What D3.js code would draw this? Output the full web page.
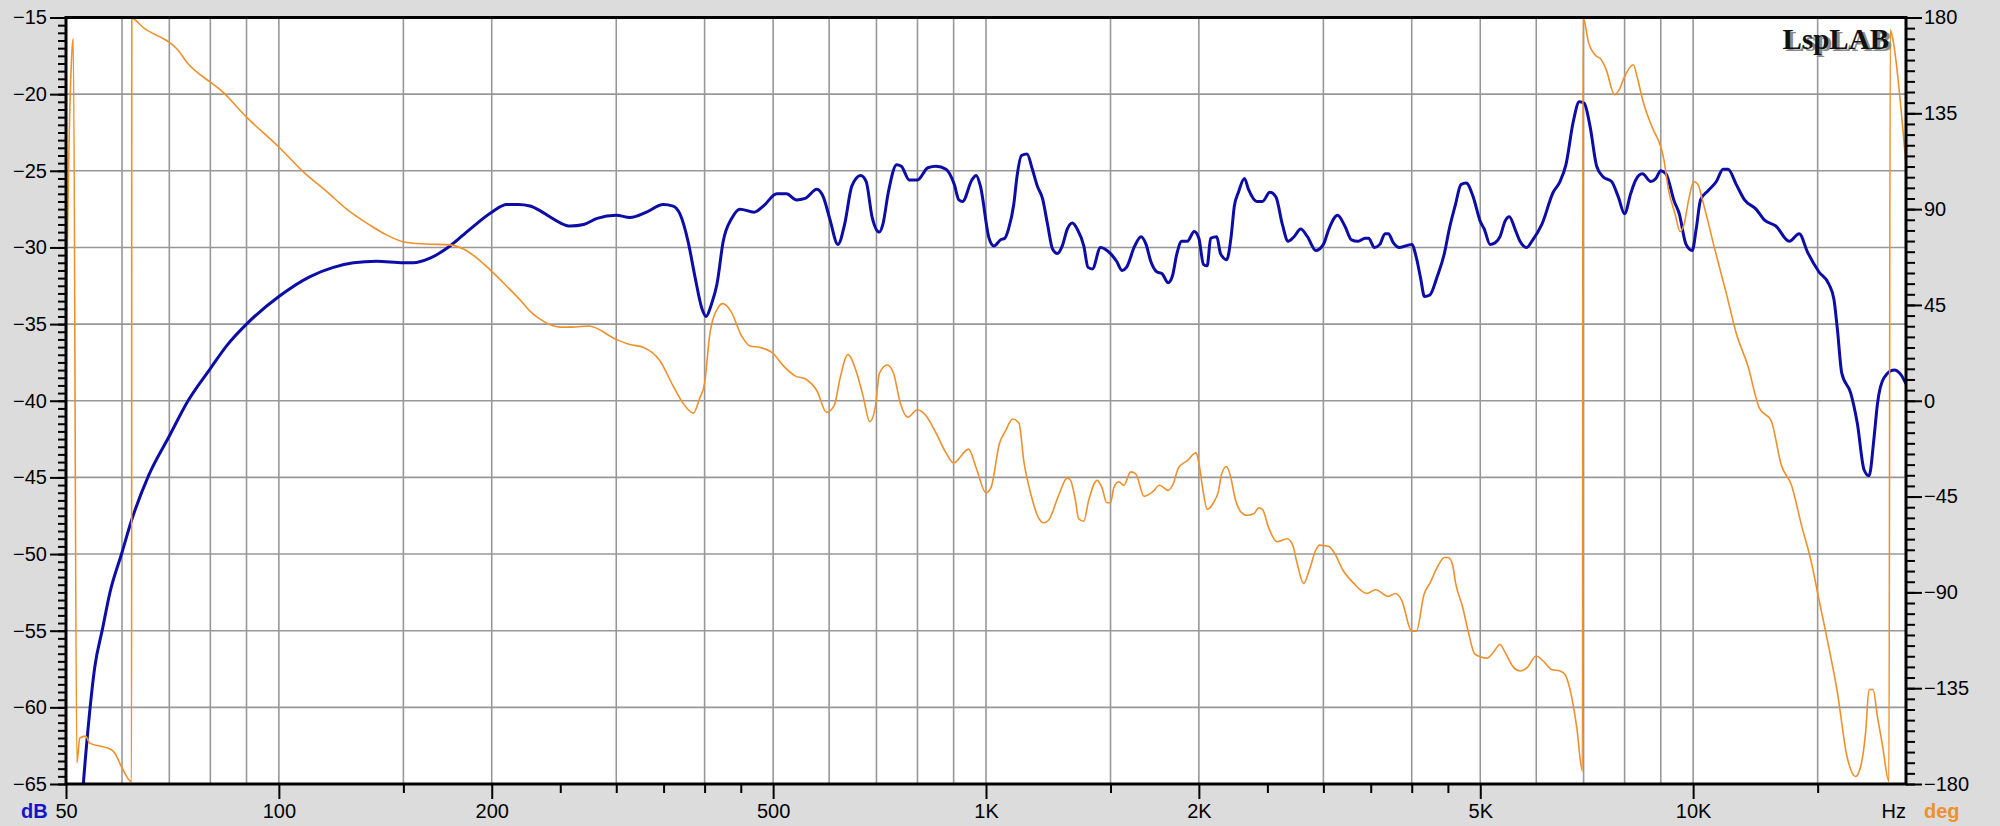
<!DOCTYPE html>
<html>
<head>
<meta charset="utf-8">
<script src="https://cdn.jsdelivr.net/npm/d3@7"></script>
<style>
  html, body { margin: 0; padding: 0; background: #dcdcdc; }
  svg { display: block; }
</style>
</head>
<body>
<svg id="chart" width="2000" height="826"></svg>
<script>
// ---------------- DATA ----------------
// Magnitude (frequency Hz, level dB) - left axis
const magnitude = [
  [52.5,-67],[52.9,-65],[53.9,-60.7],[54.9,-57.4],[56.3,-54.9],[57.7,-52.5],[60,-49.9],[61.9,-47.8],
  [65.4,-44.9],[70,-42.3],[74.4,-40.0],[80,-37.9],[84.4,-36.4],[90,-35.0],[100,-33.2],[110.7,-31.9],
  [119.4,-31.3],[127.5,-31.0],[137.5,-30.9],[150,-31.0],[154.9,-31.0],[163.6,-30.7],[174.6,-29.9],
  [186.4,-28.8],[200,-27.7],[210,-27.2],[218,-27.2],[226.5,-27.3],[234,-27.6],[241.6,-28.0],[250,-28.4],
  [258.2,-28.6],[269.8,-28.5],[281.9,-28.1],[300,-27.9],[313.6,-28.05],[331,-27.7],[349.6,-27.2],
  [361,-27.3],[369,-27.8],[379,-29.6],[388,-32.0],[396.6,-34.0],[402,-34.5],[409,-33.7],[416.4,-32.4],
  [425,-29.6],[437,-28.1],[449,-27.5],[470,-27.7],[484.4,-27.3],[506,-26.5],[522.3,-26.5],[539.4,-26.9],
  [554.9,-26.8],[576.6,-26.2],[588.7,-26.7],[601,-28.1],[617.6,-29.8],[631,-28.5],[646,-26.0],[665,-25.3],
  [677,-25.7],[690,-28.0],[706.7,-29.0],[714.7,-28.5],[727.6,-26.4],[747.6,-24.6],[759,-24.7],[779,-25.6],
  [800,-25.6],[827.5,-24.8],[850,-24.7],[878,-24.9],[902,-25.9],[915.5,-26.9],[926.5,-27.0],[955,-25.6],
  [968.6,-25.3],[982,-26.0],[1010,-29.4],[1026,-29.9],[1049,-29.5],[1063,-29.4],[1076,-28.8],[1094.6,-27.2],
  [1106,-25.4],[1122.5,-24.0],[1143,-23.9],[1163,-24.9],[1182,-26.0],[1202,-26.8],[1222,-28.5],[1242,-30.1],
  [1262,-30.4],[1282,-29.9],[1303,-28.8],[1325,-28.4],[1346,-28.8],[1375,-29.9],[1394,-31.3],[1414,-31.4],
  [1452,-30.0],[1500,-30.4],[1530,-30.9],[1558,-31.5],[1580,-31.3],[1623,-29.9],[1657,-29.3],[1684,-29.8],
  [1710,-30.9],[1745,-31.6],[1773,-31.7],[1810,-32.3],[1834,-31.9],[1862,-30.4],[1891,-29.6],[1926,-29.6],
  [1970,-28.96],[2000,-29.4],[2030,-31.1],[2055,-31.2],[2078,-29.4],[2120,-29.3],[2146,-30.4],[2190,-30.8],
  [2220,-29.4],[2245,-27.3],[2275,-26.4],[2320,-25.5],[2350,-26.2],[2415,-27.0],[2460,-27.0],[2520,-26.4],
  [2570,-26.7],[2625,-28.5],[2674,-29.6],[2727,-29.3],[2786,-28.8],[2848,-29.3],[2927,-30.2],[3000,-29.8],
  [3054,-28.8],[3142,-27.9],[3217,-28.6],[3287,-29.5],[3359,-29.6],[3437,-29.4],[3474,-29.4],[3543,-30.0],
  [3605,-29.8],[3667,-29.1],[3707,-29.1],[3768,-29.7],[3845,-30.0],[4000,-29.8],[4062,-30.7],[4117,-32.0],
  [4170,-33.2],[4243,-33.1],[4346,-31.9],[4448,-30.4],[4520,-28.8],[4612,-27.2],[4695,-25.9],[4776,-25.8],
  [4886,-26.7],[5000,-28.3],[5066,-28.8],[5162,-29.8],[5246,-29.7],[5332,-29.3],[5419,-28.3],[5497,-28.0],
  [5599,-28.8],[5691,-29.6],[5818,-30.0],[5914,-29.6],[6110,-28.5],[6340,-26.4],[6482,-25.7],[6609,-24.6],
  [6768,-21.8],[6902,-20.5],[7015,-20.6],[7149,-22.1],[7304,-24.7],[7463,-25.4],[7668,-25.7],[7837,-26.7],
  [8000,-27.8],[8159,-26.5],[8295,-25.6],[8475,-25.2],[8714,-25.7],[8858,-25.5],[9000,-25.0],[9154,-25.2],
  [9405,-27.0],[9558,-27.8],[9772,-29.8],[9970,-30.2],[10100,-28.8],[10245,-26.9],[10499,-26.3],[10786,-25.7],
  [11024,-24.9],[11205,-24.9],[11510,-25.9],[11823,-26.9],[12273,-27.5],[12607,-28.2],[13093,-28.6],
  [13676,-29.6],[14124,-29.1],[14513,-30.3],[15066,-31.6],[15561,-32.4],[15818,-33.4],[15993,-35.3],
  [16226,-38.2],[16706,-39.5],[17072,-41.5],[17446,-44.5],[17732,-44.9],[18024,-42.4],[18224,-40.2],
  [18619,-38.5],[19240,-38.0],[19668,-38.3],[20000,-38.9]
];

// Phase (frequency Hz, degrees) - right axis
const phase = [
  [50,8],[50.1,40],[51.0,165],[51.2,170],[51.8,-170],[52.3,-158.4],[53.3,-157.5],[54.0,-160.8],[55.8,-162.2],
  [57.3,-163.1],[58.6,-165.4],[59.9,-171.9],[61.9,-178.9],[61.95,180],[62.4,179.3],[64.3,175.3],[70,168.3],
  [71.7,165.3],[74.4,158.3],[80,149.6],[82.6,146.1],[90,133.2],[100,119.2],[108.3,107.5],[116.9,98.2],
  [124.7,90],[134.5,82.5],[142,77.9],[151.5,74.3],[161.8,73.6],[174.6,73.2],[182.4,71.3],[200,60.8],
  [210,53.8],[221.8,45.6],[226.5,42.1],[233.5,38.6],[250,34.6],[260,34.6],[274.3,35.1],[300,28.8],
  [313.6,26.4],[328,25.0],[346,18.7],[361,7.0],[373,-1.2],[385.7,-5.8],[393.7,1.2],[400,8.2],[407,31.6],
  [418,43.7],[424.5,45.6],[435.6,42.1],[451.4,30.4],[463.6,25.7],[479.9,25.0],[500,22.2],[517,16.4],
  [537,11.7],[557,10.0],[576.6,4.7],[595,-5.4],[610,-2.3],[621.7,10.5],[637.7,21.7],[655,14.0],[670,2.3],
  [685,-9.8],[697,-3.5],[706.7,12.9],[725,16.8],[740,12.9],[756.6,-1.2],[775,-7.7],[800,-4.2],[822.6,-7.0],
  [850,-15.2],[878,-24.5],[899.6,-29.2],[945,-22.7],[968.6,-31.6],[1000,-43.2],[1016,-40.9],[1045,-20],
  [1066,-14.0],[1091,-8.6],[1113,-10.5],[1132,-29.2],[1156,-43.2],[1186,-54.9],[1206,-57.3],[1226,-56.1],
  [1267,-44.4],[1303,-36.2],[1317,-37.4],[1338,-46.8],[1352,-55.4],[1375,-56.6],[1397,-46.8],[1436,-37.4],
  [1459,-40.9],[1482,-47.9],[1500,-47.9],[1516,-40.9],[1541,-38.1],[1567,-39.7],[1602,-33.4],[1629,-34.4],
  [1673,-44.9],[1720,-42.8],[1760,-39.7],[1810,-42.1],[1840,-39.0],[1871,-31.6],[1926,-28.1],[1981,-24.5],
  [2000,-29.2],[2027,-42.1],[2055,-51.0],[2097,-47.9],[2133,-42.1],[2151,-35.1],[2187,-30.9],[2220,-36.2],
  [2245,-44.4],[2292,-52.1],[2340,-53.8],[2392,-53.1],[2430,-50.3],[2460,-51.0],[2510,-59.6],[2580,-66.2],
  [2667,-64.8],[2715,-67.8],[2747,-74.8],[2814,-85.8],[2866,-79.5],[2927,-70.1],[2963,-67.8],[3054,-68.5],
  [3107,-71.3],[3196,-79.5],[3302,-85.3],[3455,-90.5],[3556,-88.8],[3707,-91.9],[3793,-90.5],[3869,-93.5],
  [4000,-108.2],[4062,-108.2],[4161,-91.2],[4250,-85.3],[4346,-78.3],[4448,-73.6],[4505,-73.6],[4570,-77.1],
  [4612,-85.3],[4722,-97.0],[4805,-108],[4912,-119],[5000,-120.2],[5110,-120.9],[5218,-118.1],[5332,-114.5],
  [5419,-118.1],[5568,-125.1],[5691,-126.9],[5818,-125.5],[6000,-119.9],[6140,-122.3],[6306,-126.2],
  [6482,-126.9],[6588,-128.6],[6733,-139.1],[6843,-153.1],[6975,-174],[6985,180],[7012,178.8],[7112,168.3],
  [7265,162.5],[7418,160.1],[7535,155.5],[7741,143.8],[7862,146.1],[7990,151.9],[8230,157.8],[8335,151.9],
  [8500,140.3],[8747,128.6],[9000,119.2],[9090,113.4],[9224,99.4],[9430,87.7],[9583,79.5],[9712,83.0],
  [9860,94.7],[10020,102.9],[10155,101.7],[10300,94.7],[10728,71.3],[11143,50.3],[11510,31.6],[11950,16.4],
  [12408,-3.5],[12892,-9.4],[13330,-30.4],[13776,-39.7],[14229,-58.4],[14700,-76.0],[15066,-93.5],
  [15478,-112.2],[15993,-136.8],[16505,-167.1],[16975,-176.5],[17255,-171.8],[17538,-155.5],[17732,-135.6],
  [17965,-135.6],[18224,-148.4],[18514,-161.3],[18921,-178.8],[19000,174.2],[19170,169.5],[19528,148.4],
  [19740,132.1],[20000,111.0]
];

// Axis / tick definitions
const freqDomain = [50, 20000];
const dbDomain = [-65, -15];
const degDomain = [-180, 180];
const freqLabelTicks = [50, 100, 200, 500, 1000, 2000, 5000, 10000];
const freqLabelText = ["50", "100", "200", "500", "1K", "2K", "5K", "10K"];
const freqMinorTicks = [150, 250, 300, 350, 400, 450, 1500, 2500, 3000, 3500, 4000, 4500, 15000];
const freqGrid = [60, 70, 80, 90, 100, 150, 200, 300, 400, 500, 600, 700, 800, 900, 1000, 1500, 2000,
                  3000, 4000, 5000, 6000, 7000, 8000, 9000, 10000, 15000];
const dbTicks = [-15, -20, -25, -30, -35, -40, -45, -50, -55, -60, -65];
const dbGrid = [-20, -25, -30, -35, -40, -45, -50, -55, -60];
const degTicks = [180, 135, 90, 45, 0, -45, -90, -135, -180];

// ---------------- LAYOUT ----------------
const L = 66, R = 1906, T = 17.5, B = 784;
const svg = d3.select("#chart");
const x = d3.scaleLog().domain(freqDomain).range([L, R]);
const yL = d3.scaleLinear().domain(dbDomain).range([B, T]);
const yR = d3.scaleLinear().domain(degDomain).range([B, T]);

const FONT = "'Liberation Sans', Arial, Helvetica, sans-serif";
const BLUE = "#0c0ca6";
const ORANGE = "#f0902a";

svg.append("rect").attr("width", 2000).attr("height", 826).attr("fill", "#dcdcdc");
svg.append("rect").attr("x", L).attr("y", T).attr("width", R - L).attr("height", B - T).attr("fill", "#ffffff");

svg.append("defs").append("clipPath").attr("id", "plotclip")
  .append("rect").attr("x", L).attr("y", T).attr("width", R - L).attr("height", B - T);

// grid
const grid = svg.append("g").attr("stroke", "#989898").attr("stroke-width", 1.6);
grid.selectAll("line.v").data(freqGrid).join("line")
  .attr("x1", d => x(d)).attr("x2", d => x(d)).attr("y1", T).attr("y2", B);
grid.selectAll("line.h").data(dbGrid).join("line")
  .attr("x1", L).attr("x2", R).attr("y1", d => yL(d)).attr("y2", d => yL(d));

// curves
const plot = svg.append("g").attr("clip-path", "url(#plotclip)");
const magLine = d3.line().x(d => x(d[0])).y(d => yL(d[1])).curve(d3.curveMonotoneX);
const phLine = d3.line().x(d => x(d[0])).y(d => yR(d[1])).curve(d3.curveMonotoneX);
plot.append("path").datum(magnitude).attr("d", magLine)
  .attr("fill", "none").attr("stroke", BLUE).attr("stroke-width", 3).attr("stroke-linejoin", "round");
plot.append("path").datum(phase).attr("d", phLine)
  .attr("fill", "none").attr("stroke", ORANGE).attr("stroke-width", 1.6).attr("stroke-linejoin", "round");

// watermark
const wm = svg.append("g").attr("font-family", "'Liberation Serif', 'Times New Roman', serif")
  .attr("font-weight", "bold").attr("font-size", 29).attr("text-anchor", "end");
wm.append("text").attr("x", 1892).attr("y", 51).attr("fill", "#8a8a8a").text("LspLAB");
wm.append("text").attr("x", 1889).attr("y", 49).attr("fill", "#111").text("LspLAB");

// frame
svg.append("rect").attr("x", L).attr("y", T).attr("width", R - L).attr("height", B - T)
  .attr("fill", "none").attr("stroke", "#000").attr("stroke-width", 3);

function styleAxis(g) {
  g.select(".domain").remove();
  g.selectAll(".tick line").attr("stroke", "#000").attr("stroke-width", 2);
  g.selectAll("text").attr("font-family", FONT).attr("font-size", 20).attr("fill", "#000");
}

// left axis
svg.append("g").attr("transform", `translate(${L},0)`)
  .call(d3.axisLeft(yL).tickValues(d3.range(-65, -14.9, 0.5)).tickSize(8).tickFormat(""))
  .call(styleAxis);
svg.append("g").attr("transform", `translate(${L},0)`)
  .call(d3.axisLeft(yL).tickValues(dbTicks).tickSize(16).tickPadding(3).tickFormat(d3.format("d")))
  .call(styleAxis);

// right axis
svg.append("g").attr("transform", `translate(${R},0)`)
  .call(d3.axisRight(yR).tickValues(d3.range(-180, 180.1, 5)).tickSize(9).tickFormat(""))
  .call(styleAxis);
svg.append("g").attr("transform", `translate(${R},0)`)
  .call(d3.axisRight(yR).tickValues(degTicks).tickSize(16).tickPadding(2).tickFormat(d3.format("d")))
  .call(styleAxis);

// bottom axis
svg.append("g").attr("transform", `translate(0,${B})`)
  .call(d3.axisBottom(x).tickValues(freqMinorTicks).tickSize(9).tickFormat(""))
  .call(styleAxis);
svg.append("g").attr("transform", `translate(0,${B})`)
  .call(d3.axisBottom(x).tickValues(freqLabelTicks).tickSize(15).tickPadding(5)
    .tickFormat((d, i) => freqLabelText[i]))
  .call(styleAxis);

// unit labels
svg.append("text").attr("x", 21).attr("y", 818).attr("font-family", FONT).attr("font-size", 20)
  .attr("font-weight", "bold").attr("fill", "#1414c8").text("dB");
svg.append("text").attr("x", 1906).attr("y", 818).attr("text-anchor", "end").attr("font-family", FONT)
  .attr("font-size", 20).attr("fill", "#000").text("Hz");
svg.append("text").attr("x", 1924).attr("y", 818).attr("font-family", FONT).attr("font-size", 20)
  .attr("font-weight", "bold").attr("fill", ORANGE).text("deg");
</script>
</body>
</html>
